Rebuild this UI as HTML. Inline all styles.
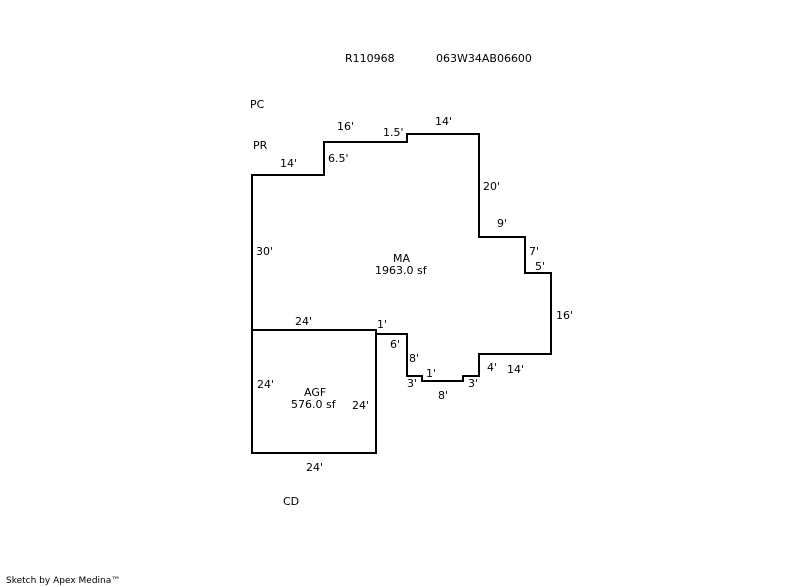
<!DOCTYPE html>
<html><head><style>
html,body{margin:0;padding:0;background:#fff;}
svg{display:block;}
text{font-family:"DejaVu Sans","Liberation Sans",sans-serif;font-size:11px;fill:#000;}
</style></head><body>
<svg width="800" height="587" viewBox="0 0 800 587" xmlns="http://www.w3.org/2000/svg">
<g fill="none" stroke="#000" stroke-width="2" stroke-linejoin="miter" stroke-linecap="square">
<polyline points="252,330 252,175 324,175 324,142 407,142 407,134 479,134 479,237 525,237 525,273 551,273 551,354 479,354 479,376 463,376 463,381 422,381 422,376 407,376 407,334 376,334 376,330 252,330"/>
<rect x="252" y="330" width="124" height="123"/>
</g>
<text x="345" y="62">R110968</text>
<text x="436" y="62">063W34AB06600</text>
<text x="250" y="108">PC</text>
<text x="253" y="149">PR</text>
<text x="337" y="130">16'</text>
<text x="383" y="136">1.5'</text>
<text x="435" y="125">14'</text>
<text x="280" y="167">14'</text>
<text x="328" y="162">6.5'</text>
<text x="483" y="190">20'</text>
<text x="497" y="227">9'</text>
<text x="529" y="255">7'</text>
<text x="535" y="270">5'</text>
<text x="256" y="255">30'</text>
<text x="393" y="262">MA</text>
<text x="375" y="274">1963.0 sf</text>
<text x="556" y="319">16'</text>
<text x="295" y="325">24'</text>
<text x="377" y="328">1'</text>
<text x="390" y="348">6'</text>
<text x="409" y="362">8'</text>
<text x="426" y="377">1'</text>
<text x="407" y="387">3'</text>
<text x="468" y="387">3'</text>
<text x="438" y="399">8'</text>
<text x="487" y="371">4'</text>
<text x="507" y="373">14'</text>
<text x="257" y="388">24'</text>
<text x="304" y="396">AGF</text>
<text x="291" y="408">576.0 sf</text>
<text x="352" y="409">24'</text>
<text x="306" y="471">24'</text>
<text x="283" y="505">CD</text>
<text x="6" y="583" style="font-size:9px">Sketch by Apex Medina™</text>
</svg>
</body></html>
